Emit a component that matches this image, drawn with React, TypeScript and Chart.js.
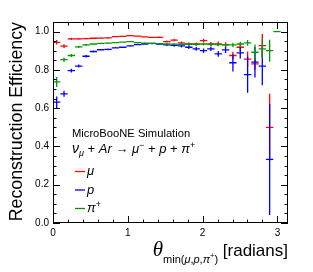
import { useEffect, useRef } from "react";
import { Chart, registerables } from "chart.js";

Chart.register(...registerables);

// ---- data ----
const NBINS = 32;
const X_MIN = 0;
const X_MAX = Math.PI;
const Y_MIN = 0;
const Y_MAX = 1.05;
const yTickValues = [0, 0.2, 0.4, 0.6, 0.8, 1.0];
const xTickValues = [0, 1, 2, 3];

const muEff = [0.944, 0.924, 0.962, 0.962, 0.963, 0.965, 0.966, 0.967, 0.974, 0.975, 0.979, 0.976, 0.972, 0.97, 0.97, 0.948, 0.955, 0.941, 0.935, 0.935, 0.953, 0.935, 0.936, 0.93, 0.875, 0.918, 0.856, 0.831, 0.927, 0.5];
const muErr = [0.012, 0.01, 0.006, 0.005, 0.004, 0.004, 0.004, 0.004, 0.003, 0.003, 0.003, 0.003, 0.003, 0.003, 0.004, 0.005, 0.006, 0.007, 0.008, 0.008, 0.009, 0.01, 0.012, 0.014, 0.02, 0.022, 0.04, 0.03, 0.06, 0.175];
const pEff = [0.631, 0.675, 0.796, 0.82, 0.871, 0.896, 0.905, 0.907, 0.915, 0.918, 0.925, 0.932, 0.935, 0.938, 0.935, 0.93, 0.928, 0.925, 0.918, 0.91, 0.9, 0.91, 0.883, 0.904, 0.837, 0.889, 0.775, 0.84, 0.819, 0.332];
const pErr = [0.03, 0.016, 0.01, 0.008, 0.006, 0.005, 0.004, 0.004, 0.004, 0.004, 0.004, 0.004, 0.004, 0.004, 0.005, 0.006, 0.007, 0.008, 0.009, 0.01, 0.012, 0.012, 0.015, 0.016, 0.045, 0.03, 0.095, 0.08, 0.1, 0.29];
const piEff = [0.737, 0.853, 0.875, 0.92, 0.93, 0.935, 0.938, 0.94, 0.942, 0.945, 0.948, 0.942, 0.94, 0.938, 0.936, 0.935, 0.934, 0.933, 0.935, 0.933, 0.935, 0.934, 0.932, 0.932, 0.93, 0.935, 0.941, 0.892, 0.91, 0.9, 1.0];
const piErr = [0.026, 0.012, 0.008, 0.006, 0.005, 0.004, 0.004, 0.004, 0.003, 0.003, 0.003, 0.003, 0.004, 0.004, 0.004, 0.005, 0.005, 0.006, 0.006, 0.007, 0.008, 0.008, 0.009, 0.01, 0.012, 0.012, 0.015, 0.04, 0.05, 0.057, 0];

const RED = "#ff0000";
const BLUE = "#0000ff";
const GREEN = "#009900";

const BIN_W = (X_MAX - X_MIN) / NBINS;
const toPoints = (vals: number[]) => vals.map((v, i) => ({ x: X_MIN + (i + 0.5) * BIN_W, y: v }));

const SANS = "'Liberation Sans', Arial, sans-serif";
const SERIF = "'Liberation Serif', serif";

type Run = { t: string; font: string; dy?: number };
function drawRuns(ctx: CanvasRenderingContext2D, x: number, y: number, runs: Run[], align: "left" | "right" = "left") {
  let total = 0;
  runs.forEach((r) => {
    ctx.font = r.font;
    total += ctx.measureText(r.t).width;
  });
  let cx = align === "right" ? x - total : x;
  ctx.textAlign = "left";
  runs.forEach((r) => {
    ctx.font = r.font;
    ctx.fillText(r.t, cx, y + (r.dy || 0));
    cx += ctx.measureText(r.t).width;
  });
}

const errPlugin = {
  id: "errbars",
  afterDatasetsDraw(chart: any) {
    const { ctx, chartArea, scales } = chart;
    const xs = scales.x;
    const ys = scales.y;
    ctx.save();
    ctx.beginPath();
    ctx.rect(chartArea.left, chartArea.top, chartArea.right - chartArea.left, chartArea.bottom - chartArea.top);
    ctx.clip();
    chart.data.datasets.forEach((ds: any, di: number) => {
      const meta = chart.getDatasetMeta(di);
      ctx.strokeStyle = ds.borderColor;
      ctx.lineWidth = 1.3;
      ds.data.forEach((pt: any, i: number) => {
        const el = meta.data[i];
        if (!el) return;
        const x0 = xs.getPixelForValue(pt.x - BIN_W / 2);
        const x1 = xs.getPixelForValue(pt.x + BIN_W / 2);
        const e = ds.errors[i] || 0;
        const yt = ys.getPixelForValue(pt.y + e);
        const yb = ys.getPixelForValue(pt.y - e);
        ctx.beginPath();
        ctx.moveTo(x0, el.y);
        ctx.lineTo(x1, el.y);
        if (e > 0) {
          ctx.moveTo(el.x, yt);
          ctx.lineTo(el.x, yb);
        }
        ctx.stroke();
      });
    });
    ctx.restore();
  },
};

const framePlugin = {
  id: "frame",
  afterDraw(chart: any) {
    const { ctx, chartArea, scales } = chart;
    const xs = scales.x;
    const ys = scales.y;
    const { left, right, top, bottom } = chartArea;
    ctx.save();
    ctx.strokeStyle = "#000";
    ctx.lineWidth = 1;
    ctx.strokeRect(left + 0.5, top + 0.5, right - left - 1, bottom - top - 1);
    ctx.beginPath();
    // y ticks (minor 0.05, major 0.2)
    for (let k = 0; k <= 21; k++) {
      const v = k * 0.05;
      if (v > Y_MAX + 1e-9) break;
      const py = Math.round(ys.getPixelForValue(v)) + 0.5;
      const major = k % 4 === 0;
      const len = major ? 7 : 3.5;
      ctx.moveTo(left, py);
      ctx.lineTo(left + len, py);
      ctx.moveTo(right, py);
      ctx.lineTo(right - len, py);
    }
    // x ticks (minor 0.2, major 1)
    for (let k = 0; k <= 15; k++) {
      const v = k * 0.2;
      if (v > X_MAX) break;
      const px = Math.round(xs.getPixelForValue(v)) + 0.5;
      const major = k % 5 === 0;
      const len = major ? 7 : 3.5;
      ctx.moveTo(px, bottom);
      ctx.lineTo(px, bottom - len);
      ctx.moveTo(px, top);
      ctx.lineTo(px, top + len);
    }
    ctx.stroke();

    ctx.fillStyle = "#000";
    ctx.textBaseline = "alphabetic";
    // Y title
    ctx.save();
    ctx.translate(22, top);
    ctx.rotate(-Math.PI / 2);
    ctx.textAlign = "right";
    ctx.font = `17.8px ${SANS}`;
    ctx.fillText("Reconstruction Efficiency", 0, 0);
    ctx.restore();

    // X title
    drawRuns(
      ctx,
      right,
      256,
      [
        { t: "θ", font: `italic 21px ${SERIF}` },
        { t: "min(", font: `11px ${SANS}`, dy: 7 },
        { t: "μ", font: `italic 11px ${SANS}`, dy: 7 },
        { t: ",", font: `11px ${SANS}`, dy: 7 },
        { t: "p", font: `italic 11px ${SANS}`, dy: 7 },
        { t: ",", font: `11px ${SANS}`, dy: 7 },
        { t: "π", font: `italic 11px ${SANS}`, dy: 7 },
        { t: "+", font: `7.5px ${SANS}`, dy: 2 },
        { t: ")", font: `11px ${SANS}`, dy: 7 },
        { t: " [radians]", font: `17px ${SANS}` },
      ],
      "right"
    );

    // Labels block
    ctx.font = `11.2px ${SANS}`;
    ctx.textAlign = "left";
    ctx.fillText("MicroBooNE Simulation", 72, 137);
    drawRuns(ctx, 72, 153, [
      { t: "ν", font: `italic 14px ${SANS}` },
      { t: "μ", font: `italic 9px ${SANS}`, dy: 3 },
      { t: " + ", font: `13px ${SANS}` },
      { t: "Ar", font: `italic 13px ${SANS}` },
      { t: " → ", font: `13px ${SANS}` },
      { t: "μ", font: `italic 13px ${SANS}` },
      { t: "−", font: `9px ${SANS}`, dy: -5 },
      { t: " + ", font: `13px ${SANS}` },
      { t: "p", font: `italic 13px ${SANS}` },
      { t: " + ", font: `13px ${SANS}` },
      { t: "π", font: `italic 13px ${SANS}` },
      { t: "+", font: `9px ${SANS}`, dy: -5 },
    ]);

    const legend: [string, string, number][] = [
      [RED, "μ", 171.5],
      [BLUE, "p", 190],
      [GREEN, "π", 208.5],
    ];
    legend.forEach(([c, t, ly], i) => {
      ctx.strokeStyle = c;
      ctx.lineWidth = 1.3;
      ctx.beginPath();
      ctx.moveTo(75, ly);
      ctx.lineTo(85, ly);
      ctx.stroke();
      ctx.fillStyle = "#000";
      const runs: Run[] = [{ t, font: `italic 13px ${SANS}` }];
      if (i === 2) runs.push({ t: "+", font: `9px ${SANS}`, dy: -5 });
      drawRuns(ctx, 87, ly + 3.5, runs);
    });
    ctx.restore();
  },
};

export default function App() {
  const ref = useRef<HTMLCanvasElement | null>(null);
  useEffect(() => {
    if (!ref.current) return;
    const chart = new Chart(ref.current, {
      type: "scatter",
      data: {
        datasets: [
          { label: "μ", data: toPoints(muEff), errors: muErr, borderColor: RED, backgroundColor: RED, pointRadius: 0, showLine: false } as any,
          { label: "p", data: toPoints(pEff), errors: pErr, borderColor: BLUE, backgroundColor: BLUE, pointRadius: 0, showLine: false } as any,
          { label: "π+", data: toPoints(piEff), errors: piErr, borderColor: GREEN, backgroundColor: GREEN, pointRadius: 0, showLine: false } as any,
        ],
      },
      options: {
        animation: false,
        responsive: false,
        events: [],
        layout: { padding: { top: 22, right: 25, left: 0, bottom: 0 } },
        plugins: { legend: { display: false }, tooltip: { enabled: false }, title: { display: false } },
        scales: {
          x: {
            type: "linear",
            min: X_MIN,
            max: X_MAX,
            grid: { display: false, drawTicks: false },
            border: { display: false },
            ticks: {
              padding: 4,
              color: "#000",
              font: { family: SANS, size: 10 },
              callback: (v: any) => String(v),
            },
            afterBuildTicks: (s: any) => {
              s.ticks = xTickValues.map((v) => ({ value: v }));
            },
            afterFit: (s: any) => {
              s.height = 272 - 223;
            },
          },
          y: {
            type: "linear",
            min: Y_MIN,
            max: Y_MAX,
            grid: { display: false, drawTicks: false },
            border: { display: false },
            ticks: {
              padding: 4,
              color: "#000",
              font: { family: SANS, size: 10 },
              callback: (v: any) => Number(v).toFixed(1),
            },
            afterBuildTicks: (s: any) => {
              s.ticks = yTickValues.map((v) => ({ value: v }));
            },
            afterFit: (s: any) => {
              s.width = 53;
            },
          },
        },
      } as any,
      plugins: [errPlugin, framePlugin],
    });
    return () => chart.destroy();
  }, []);
  return (
    <div style={{ position: "fixed", left: 0, top: 0, width: 313, height: 272, background: "#fff" }}>
      <canvas ref={ref} width={313} height={272} style={{ display: "block", width: 313, height: 272 }} />
    </div>
  );
}
